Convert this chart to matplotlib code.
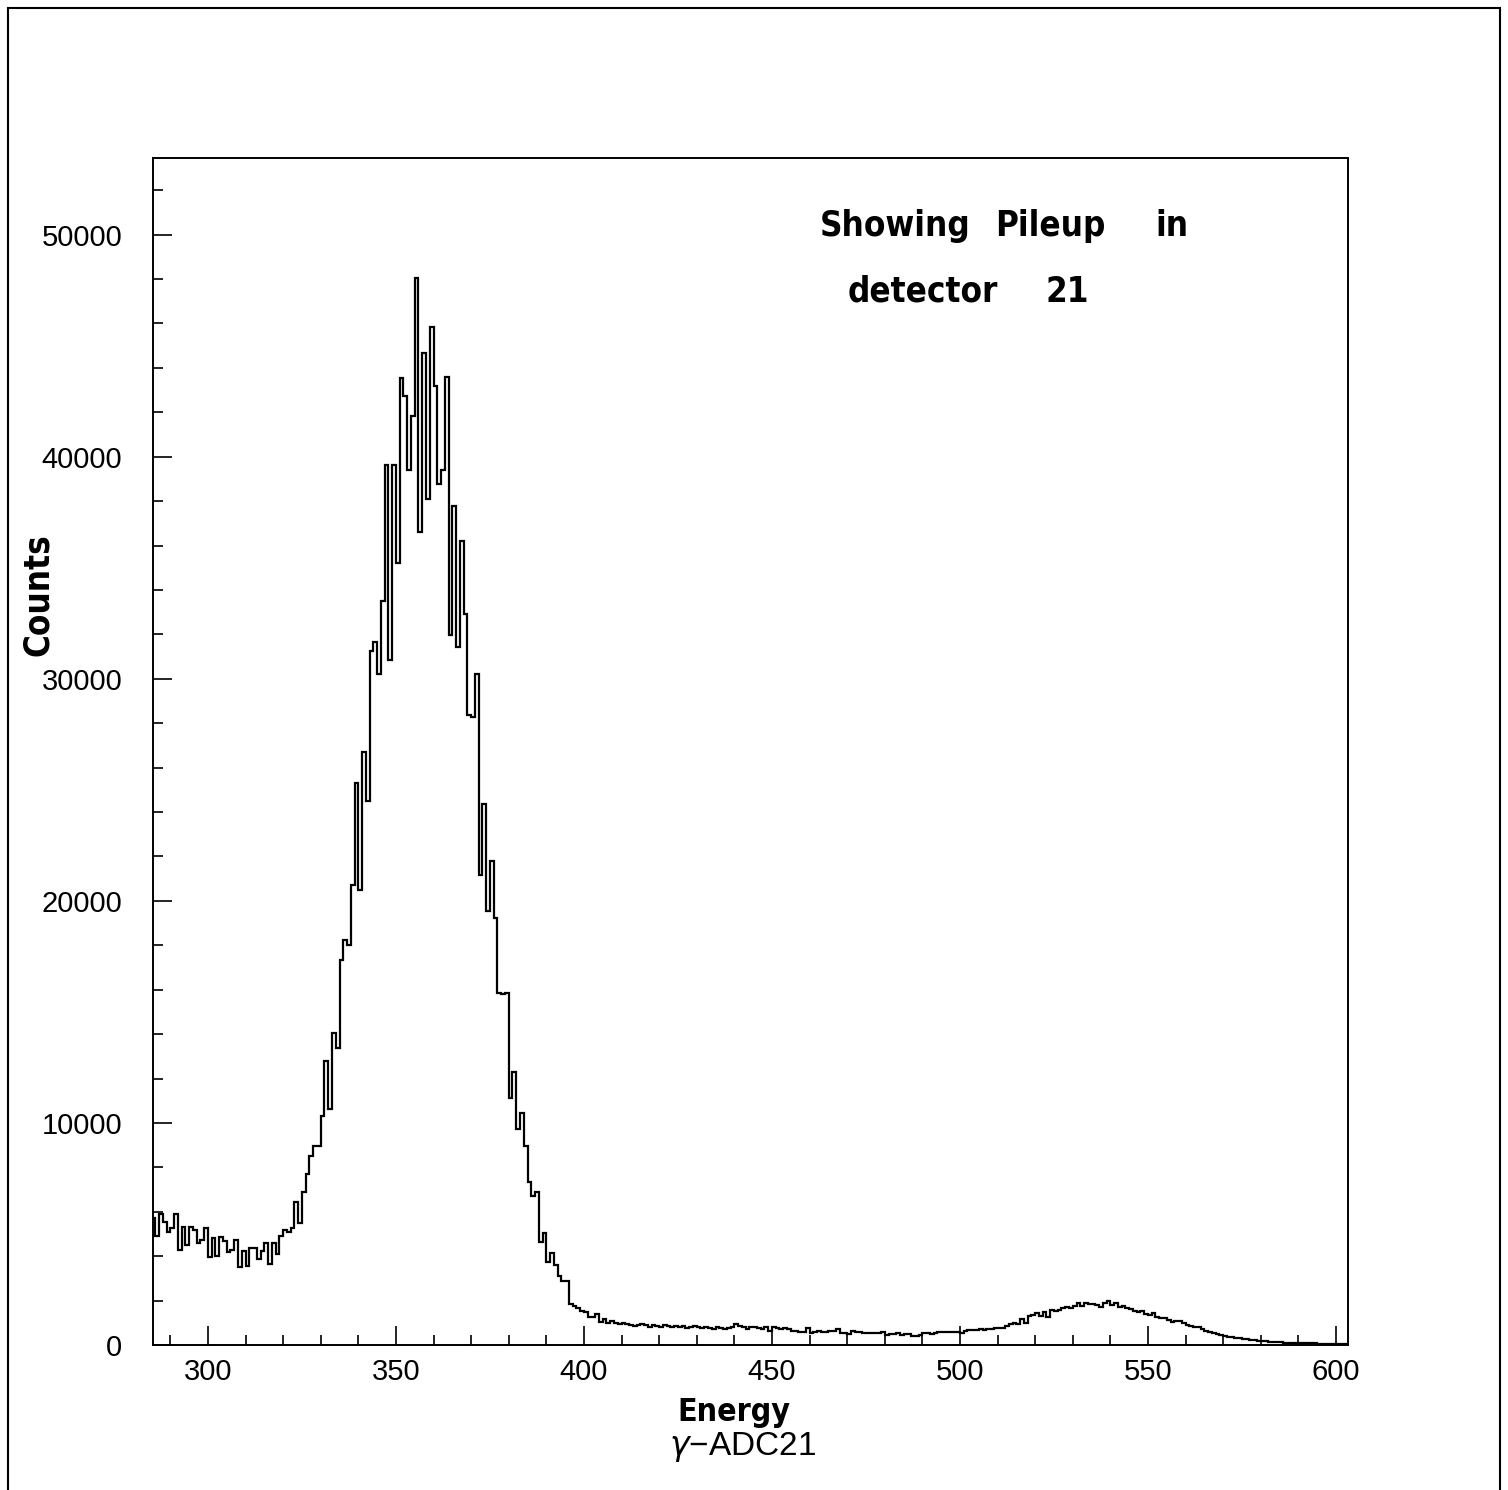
import numpy as np
import matplotlib
matplotlib.use("Agg")
import matplotlib.pyplot as plt
from matplotlib.patches import Rectangle

# histogram of gamma energies, 1-unit bins starting at 285
bin_start = 285
counts_low = [
    5700, 4900, 5880, 5550, 5100, 5250, 5880, 4270, 5325, 4500,   # 285
    5325, 5175, 4575, 4725, 5280, 3950, 4800, 4000, 4850, 4700,   # 295
    4200, 4280, 4750, 3520, 4230, 3560, 4350, 4350, 3860, 4245,   # 305
    4600, 3650, 4575, 4100, 4900, 5175, 5100, 5250, 6455, 5500,   # 315
]
counts_peak = [
    6900, 7700, 8500, 8965, 8965, 10330, 12800, 10630, 14050, 13380,      # 325
    17345, 18245, 18020, 20720, 25300, 20470, 26700, 24500, 31235, 31640,  # 335
    30215, 33490, 39615, 30860, 39615, 35215, 43550, 42750, 39420, 41850,  # 345
    48055, 36595, 44675, 38100, 45845, 43170, 38790, 39390, 43590, 31985,  # 355
    37770, 31430, 36190, 32930, 28380, 28280, 30215, 21175, 24370, 19550,  # 365
    21800, 19220, 15870, 15800, 15850, 11110, 12310, 9730, 10465, 8980,    # 375
    7330, 6710, 6880, 4655, 5060, 3755, 4130, 3600, 3110, 2860,            # 385
    2880, 1850, 1760, 1650, 1530, 1500, 1280, 1280, 1380, 1050,            # 395
]
counts_tail = [
    1150, 1000, 1100, 980, 930, 1000, 950, 920, 870, 900,   # 405
    960, 880, 830, 900, 870, 820, 880, 840, 800, 850,       # 415
    820, 870, 780, 800, 850, 790, 760, 830, 780, 740,       # 425
    810, 760, 700, 760, 825, 925, 855, 825, 735, 795,       # 435
    825, 780, 725, 795, 645, 795, 750, 705, 750, 720,       # 445
    630, 645, 600, 600, 780, 525, 570, 630, 600, 600,       # 455
    645, 645, 705, 555, 525, 480, 645, 600, 600, 555,       # 465
    525, 525, 525, 525, 570, 450, 495, 480, 555, 450,       # 475
    495, 495, 405, 405, 450, 555, 525, 495, 555, 600,       # 485
    600, 600, 570, 600, 600, 525, 645, 675, 675, 675,       # 495
]
counts_pileup = [
    705, 660, 705, 740, 780, 750, 760, 855, 950, 975,            # 505
    930, 1155, 1000, 1305, 1350, 1425, 1300, 1500, 1275, 1575,   # 515
    1545, 1590, 1650, 1725, 1650, 1755, 1905, 1755, 1875, 1830,  # 525
    1830, 1800, 1700, 1875, 1980, 1800, 1875, 1725, 1755, 1650,  # 535
    1600, 1530, 1500, 1530, 1395, 1350, 1425, 1275, 1230, 1200,  # 545
    1125, 1050, 1080, 1100, 975, 900, 850, 825, 790, 705,        # 555
    640, 600, 560, 480, 450, 420, 375, 360, 320, 300,            # 565
    280, 255, 240, 220, 200, 180, 165, 150, 140, 130,            # 575
    120, 110, 105, 100, 95, 90, 85, 80, 75, 70,                  # 585
    65, 60, 55, 50, 45, 40, 35, 30,                              # 595
]
x_ticks = [300, 350, 400, 450, 500, 550, 600]
y_ticks = [0, 10000, 20000, 30000, 40000, 50000]

counts = np.array(counts_low + counts_peak + counts_tail + counts_pileup)
edges = np.arange(bin_start, bin_start + len(counts) + 1)

W, H = 1508, 1490
fig = plt.figure(figsize=(W / 100, H / 100), dpi=100)
plt.rcParams['font.family'] = ['Liberation Sans', 'DejaVu Sans']

def px(x, y):
    return x / W, 1 - y / H

# axes frame: 153..1348 px horizontally, 158..1345 px vertically
ax = fig.add_axes([153 / W, 1 - 1345 / H, (1348 - 153) / W, (1345 - 158) / H])
ax.stairs(counts, edges, baseline=None, color='black', linewidth=1.6)

ax.set_xlim(285.4, 603.2)
ax.set_ylim(0, 53450)
ax.set_xticks(x_ticks)
ax.set_xticks(np.arange(290, 601, 10), minor=True)
ax.set_yticks(y_ticks)
ax.set_yticks(np.arange(0, 53001, 2000), minor=True)
ax.set_xticklabels([str(t) for t in x_ticks])
ax.set_yticklabels([str(t) for t in y_ticks])
ax.tick_params(which='both', direction='in', colors='black', width=1.2)
ax.tick_params(which='major', length=14)
ax.tick_params(which='minor', length=7)
ax.tick_params(axis='x', which='major', labelsize=21, pad=9)
ax.tick_params(axis='y', which='major', labelsize=21, pad=22)
for sp in ax.spines.values():
    sp.set_linewidth(1.4)

# handwritten notes (narrow bold lettering)
hand = dict(family=['Liberation Sans Narrow', 'DejaVu Sans'], fontsize=25,
            fontweight='bold', fontstretch='condensed', color='black')
fig.text(*px(820, 236), 'Showing', ha='left', va='baseline', **hand)
fig.text(*px(995, 236), 'Pileup', ha='left', va='baseline', **hand)
fig.text(*px(1155, 236), 'in', ha='left', va='baseline', **hand)
fig.text(*px(848, 302), 'detector', ha='left', va='baseline', **hand)
fig.text(*px(1045, 302), '21', ha='left', va='baseline', **hand)
fig.text(*px(38, 595), 'Counts', ha='center', va='center', rotation=90, **hand)
fig.text(*px(734, 1413), 'Energy', ha='center', va='center',
         **{**hand, 'fontsize': 23})
fig.text(*px(743, 1447), r'$\gamma$' + '\u2212ADC21', ha='center', va='center',
         fontsize=24, color='black')

# page border of the scan
fig.patches.append(Rectangle((8 / W, -0.02), (1500 - 8) / W, 1.02 - 8 / H,
                             transform=fig.transFigure, fill=False,
                             edgecolor='black', linewidth=1.5))

fig.savefig('out.png', dpi=100)
